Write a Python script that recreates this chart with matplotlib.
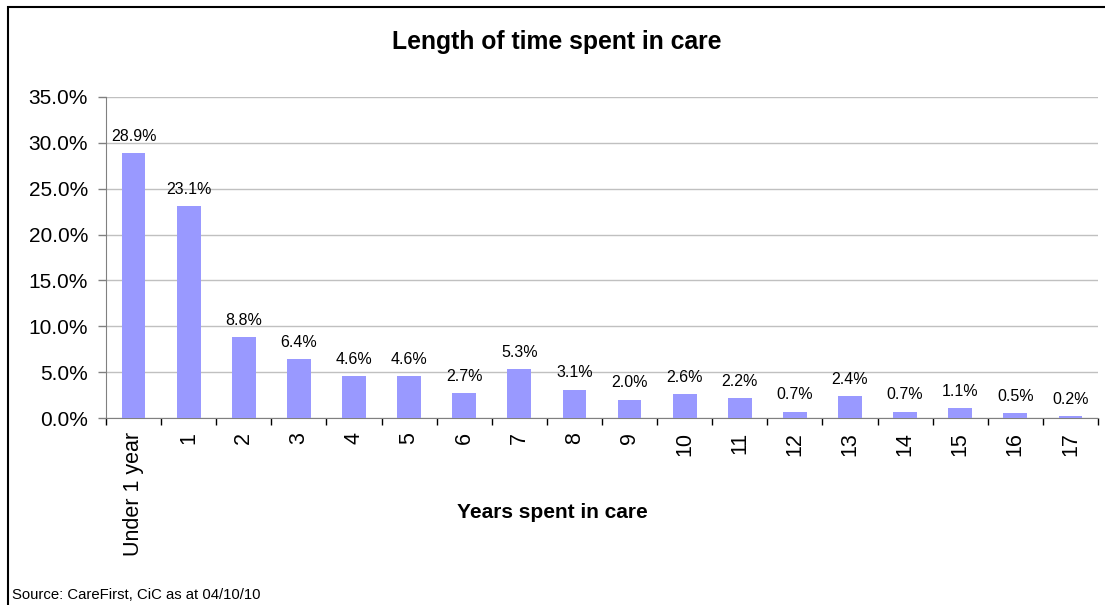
import matplotlib.pyplot as plt
import matplotlib.patches as mpatches
import numpy as np
from matplotlib.ticker import FuncFormatter

plt.rcParams['font.family'] = ['Liberation Sans', 'DejaVu Sans']

categories = ['Under 1 year'] + [str(i) for i in range(1, 18)]
shares = [28.9, 23.1, 8.8, 6.4, 4.6, 4.6, 2.7, 5.3, 3.1, 2.0,
          2.6, 2.2, 0.7, 2.4, 0.7, 1.1, 0.5, 0.2]

fig = plt.figure(figsize=(11.05, 6.05), dpi=100)
ax = fig.add_axes([106 / 1105, 1 - 418 / 605, 992 / 1105, 321 / 605])

x = np.arange(len(categories))
ax.bar(x, shares, width=0.43, color='#9999FF', zorder=3)
for xi, v in zip(x, shares):
    ax.text(xi, v + 1.0, f'{v:.1f}%', ha='center', va='bottom', fontsize=11.5)

ax.set_xlim(-0.5, len(categories) - 0.5)
ax.set_ylim(0, 35)
ax.set_yticks(np.arange(0, 36, 5))
ax.yaxis.set_major_formatter(FuncFormatter(lambda v, p: f'{v:.1f}%'))
ax.tick_params(axis='y', labelsize=15, length=6, color='#808080', width=1, pad=7)
ax.set_xticks(x)
ax.set_xticklabels(categories, rotation=90, fontsize=15.5)
ax.set_xticks(np.arange(-0.5, len(categories), 1), minor=True)
ax.tick_params(axis='x', which='major', length=0, pad=10)
ax.tick_params(axis='x', which='minor', length=5, color='#000000', width=1)
ax.grid(axis='y', color='#C0C0C0', linewidth=1, zorder=0)

for s in ['top', 'right']:
    ax.spines[s].set_visible(False)
ax.spines['left'].set_color('#808080')
ax.spines['bottom'].set_color('#808080')

fig.text(0.5, 1 - 512 / 605, 'Years spent in care', ha='center', va='center',
         fontsize=15, fontweight='bold')
fig.text(557 / 1105, 1 - 42 / 605, 'Length of time spent in care', ha='center', va='center',
         fontsize=17.8, fontweight='bold')
fig.text(12 / 1105, 1 - 595 / 605, 'Source: CareFirst, CiC as at 04/10/10', ha='left',
         va='center', fontsize=10.7)

fig.patches.append(mpatches.Rectangle((8 / 1105, -0.05), 1.2, 1 - 7 / 605 + 0.05,
                                      transform=fig.transFigure, fill=False,
                                      edgecolor='#000000', linewidth=1.5))

fig.savefig('out.png', dpi=100)
